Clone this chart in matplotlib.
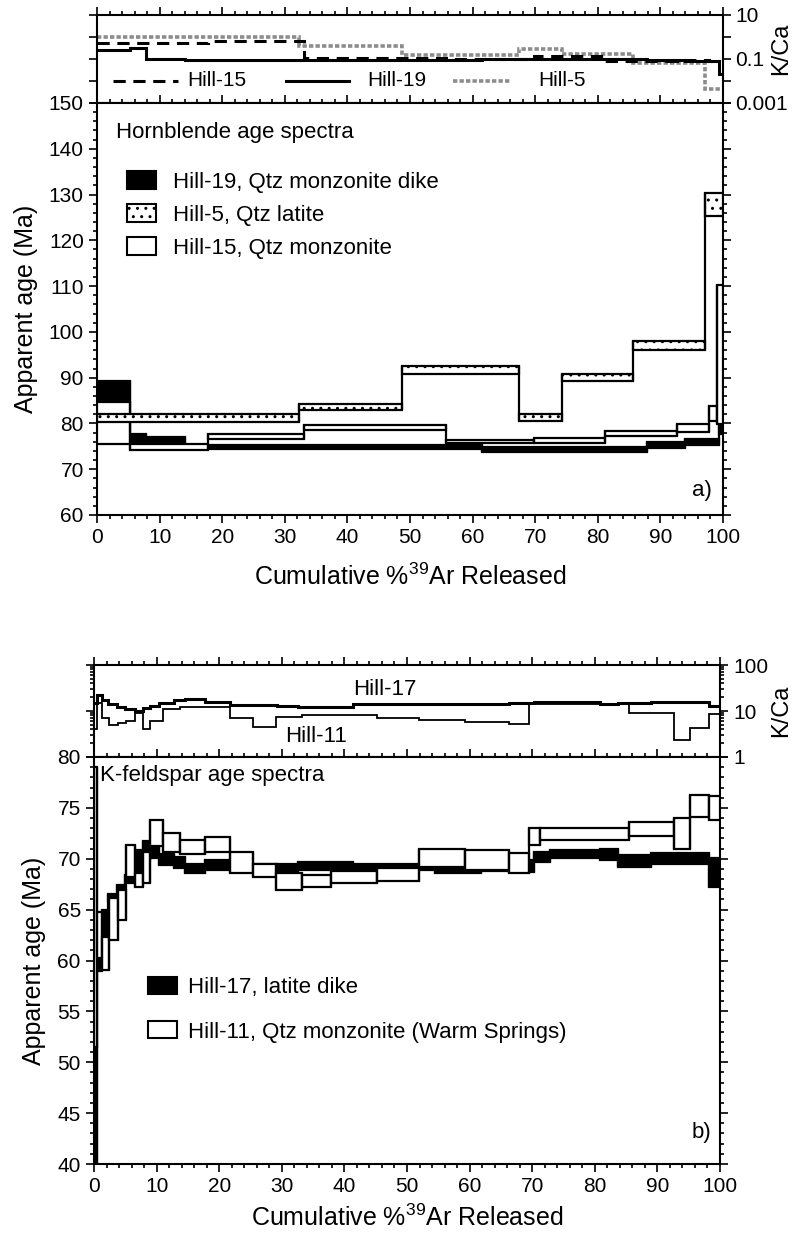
import numpy as np
import matplotlib
matplotlib.use("Agg")
import matplotlib.pyplot as plt
from matplotlib.patches import Rectangle, Patch
from matplotlib.ticker import MultipleLocator, FixedLocator, NullLocator, NullFormatter, LogLocator, FuncFormatter

plt.rcParams['font.family'] = ['Liberation Sans', 'DejaVu Sans']
plt.rcParams['mathtext.fontset'] = 'custom'
plt.rcParams['mathtext.rm'] = 'Liberation Sans'
plt.rcParams['mathtext.it'] = 'Liberation Sans:italic'
plt.rcParams['hatch.linewidth'] = 1.0

# ---- (a) hornblende: step edges (cumulative %39Ar), age lo / hi (Ma), K/Ca ----
h19_edges = [0, 5.2, 7.9, 14.0, 61.5, 87.9, 94.0, 99.3, 100]
h19_lo = [84.7, 75.9, 75.4, 74.4, 73.7, 74.7, 75.3, 77.6]
h19_hi = [89.2, 77.6, 77.0, 75.4, 74.8, 75.9, 76.5, 81.6]
h19_kca = [0.26, 0.32, 0.10, 0.088, 0.095, 0.09, 0.085, 0.02]

h15_edges = [0, 5.2, 17.8, 33.0, 55.7, 69.8, 81.1, 92.6, 97.8, 99.1, 100]
h15_lo = [75.6, 74.1, 76.7, 78.6, 75.8, 75.7, 77.2, 78.1, 80.5, 79.8]
h15_hi = [84.7, 75.6, 77.7, 79.6, 76.3, 76.9, 78.3, 79.8, 83.9, 110.3]
h15_kca = [0.52, 0.52, 0.63, 0.11, 0.10, 0.13, 0.085, 0.09, 0.085, 0.09]

h5_edges = [0, 32.2, 48.7, 67.4, 74.3, 85.6, 97.1, 100]
h5_lo = [80.3, 83.0, 90.8, 80.5, 89.2, 96.1, 125.4]
h5_hi = [82.1, 84.3, 92.6, 82.0, 90.7, 98.1, 130.3]
h5_kca = [1.05, 0.37, 0.16, 0.28, 0.17, 0.066, 0.0045]

# ---- (b) K-feldspar ----
h17_edges = [0, 0.5, 1.3, 2.3, 3.7, 4.9, 6.6, 7.9, 8.9, 10.4, 12.7, 14.5, 17.7, 21.7,
             29.2, 32.6, 41.4, 54.5, 61.8, 66.3, 69.5, 70.3, 72.9, 80.8, 83.7, 88.9, 98.2, 100]
h17_lo = [40.0, 59.0, 62.5, 65.8, 66.8, 67.6, 68.6, 69.9, 70.1, 69.4, 69.1, 68.6, 68.9,
          68.9, 68.6, 68.9, 68.9, 68.6, 68.8, 68.7, 68.7, 69.7, 70.1, 69.9, 69.2, 69.5, 67.2]
h17_hi = [51.5, 63.0, 65.0, 66.5, 67.4, 68.4, 70.9, 71.7, 71.3, 70.5, 70.2, 69.5, 69.9,
          69.5, 69.5, 69.7, 69.5, 69.4, 69.5, 69.9, 69.9, 70.7, 70.9, 71.0, 70.4, 70.6, 70.1]
h17_kca = [15, 22, 17, 14, 12, 11, 10, 11.5, 13, 15, 17.5, 18, 16, 13.5, 13, 12.5, 14,
           14, 14.5, 15, 15, 16, 16, 14, 15, 16, 13]

h11_edges = [0, 0.5, 1.3, 2.4, 3.8, 5.1, 6.6, 7.9, 9.0, 11.0, 13.8, 17.8, 21.7, 25.4,
             29.0, 33.3, 37.8, 45.2, 51.9, 59.3, 66.3, 69.5, 71.3, 85.4, 92.7, 95.2, 98.3, 100]
h11_lo = [51.5, 60.2, 59.1, 62.0, 64.0, 68.2, 67.2, 67.6, 71.3, 70.7, 70.5, 70.7, 68.6,
          68.2, 66.9, 67.2, 67.6, 67.8, 69.2, 68.9, 68.6, 71.4, 71.8, 72.2, 71.0, 74.1, 73.8]
h11_hi = [79.0, 64.8, 62.3, 66.1, 66.9, 71.4, 68.6, 70.7, 73.8, 72.5, 71.8, 72.1, 70.7,
          69.5, 68.6, 68.4, 68.8, 69.1, 71.0, 70.9, 70.6, 73.0, 73.0, 73.6, 74.0, 76.3, 76.2]
h11_kca = [4, 15, 7, 5, 5.5, 6, 9, 4, 6, 11, 12, 12, 7, 4.5, 7.5, 8, 8, 7, 6.5, 5.7,
           5.3, 14, 14, 9, 2.3, 4.2, 8.4]

W, H = 797, 1239


def spectrum(ax, edges, lo, hi, face, hatch=None, z=2):
    # one box per heating step, joined by vertical risers
    for i in range(len(lo)):
        ax.add_patch(Rectangle((edges[i], lo[i]), edges[i + 1] - edges[i], hi[i] - lo[i],
                               facecolor=face, edgecolor='black', hatch=hatch, lw=1.6, zorder=z))
        if i > 0:
            ax.vlines(edges[i], min(lo[i - 1], lo[i]), max(hi[i - 1], hi[i]),
                      color='black', lw=1.6, zorder=z)


def style(ax):
    for s in ax.spines.values():
        s.set_linewidth(1.5)
    ax.tick_params(which='both', direction='out', top=True, right=True, width=1.2, labelsize=15)
    ax.tick_params(which='major', length=6)
    ax.tick_params(which='minor', length=3)


def axes_px(left, right, top, bottom):
    return fig.add_axes([left / W, 1 - bottom / H, (right - left) / W, (bottom - top) / H])


fig = plt.figure(figsize=(W / 100, H / 100), dpi=100)

# ================= panel a =================
ka = axes_px(97, 723, 15, 103)
ma = axes_px(97, 723, 103, 515)

ka.stairs(h5_kca, h5_edges, baseline=None, color='0.55', lw=2.6, ls=(0, (1.2, 0.6)))
ka.stairs(h15_kca, h15_edges, baseline=None, color='black', lw=2.2, ls=(0, (4, 2.5)))
ka.stairs(h19_kca, h19_edges, baseline=None, color='black', lw=2.2)
ka.set_yscale('log')
ka.set_xlim(0, 100)
ka.set_ylim(0.001, 10)
ka.xaxis.set_major_locator(MultipleLocator(10))
ka.xaxis.set_minor_locator(MultipleLocator(2))
ka.yaxis.set_major_locator(FixedLocator([0.001, 0.01, 0.1, 1, 10]))
ka.yaxis.set_minor_locator(NullLocator())
ka.yaxis.set_major_formatter(FuncFormatter(lambda v, p: {0.001: '0.001', 0.1: '0.1', 10: '10'}.get(round(v, 4), '')))
style(ka)
ka.tick_params(labelbottom=False, labelleft=False, labelright=True, pad=3)
ka.yaxis.set_label_position('right')
ka.set_ylabel('K/Ca', fontsize=17)
ka.yaxis.set_label_coords(1.075, 0.62)

# legend for K/Ca traces, drawn by hand
for x0, x1, xt, col, lw, ls, lab in [(2.5, 12.9, 14.4, 'black', 2.2, (0, (4, 2.5)), 'Hill-15'),
                                     (30.2, 40.3, 43.2, 'black', 2.2, '-', 'Hill-19'),
                                     (56.8, 66.2, 70.5, '0.55', 2.6, (0, (1.2, 0.6)), 'Hill-5')]:
    ka.plot([x0, x1], [0.01, 0.01], color=col, lw=lw, ls=ls)
    ka.text(xt, 0.01, lab, fontsize=15, va='center', ha='left')

spectrum(ma, h19_edges, h19_lo, h19_hi, 'black', z=2)
spectrum(ma, h15_edges, h15_lo, h15_hi, 'white', z=3)
spectrum(ma, h5_edges, h5_lo, h5_hi, 'white', hatch='..', z=4)
ma.set_xlim(0, 100)
ma.set_ylim(60, 150)
ma.xaxis.set_major_locator(MultipleLocator(10))
ma.xaxis.set_minor_locator(MultipleLocator(2))
ma.yaxis.set_major_locator(MultipleLocator(10))
ma.yaxis.set_minor_locator(MultipleLocator(2))
style(ma)
ma.set_ylabel('Apparent age (Ma)', fontsize=18, labelpad=8)
ma.set_xlabel('Cumulative %$^{39}$Ar Released', fontsize=18, labelpad=12)
ma.text(3.0, 143.5, 'Hornblende age spectra', fontsize=16, va='center')
ma.text(98.2, 65.3, 'a)', fontsize=16, va='center', ha='right')
ma.legend(handles=[Patch(facecolor='black', edgecolor='black', lw=1.5),
                   Patch(facecolor='white', edgecolor='black', hatch='..', lw=1.5),
                   Patch(facecolor='white', edgecolor='black', lw=1.5)],
          labels=['Hill-19, Qtz monzonite dike', 'Hill-5, Qtz latite', 'Hill-15, Qtz monzonite'],
          loc='upper left', bbox_to_anchor=(0.048, 0.835), frameon=False, fontsize=16,
          handlelength=1.3, handleheight=0.9, handletextpad=0.75, labelspacing=0.5,
          borderpad=0, borderaxespad=0)

# ================= panel b =================
kb = axes_px(94, 720, 665, 757)
mb = axes_px(94, 720, 757, 1164)

kb.stairs(h11_kca, h11_edges, baseline=None, color='black', lw=1.3)
kb.stairs(h17_kca, h17_edges, baseline=None, color='black', lw=2.2)
kb.set_yscale('log')
kb.set_xlim(0, 100)
kb.set_ylim(1, 100)
kb.xaxis.set_major_locator(MultipleLocator(10))
kb.xaxis.set_minor_locator(MultipleLocator(2))
kb.yaxis.set_major_locator(FixedLocator([1, 10, 100]))
kb.yaxis.set_minor_locator(LogLocator(base=10, subs=np.arange(2, 10)))
kb.yaxis.set_minor_formatter(NullFormatter())
kb.yaxis.set_major_formatter(FuncFormatter(lambda v, p: '%d' % v))
style(kb)
kb.tick_params(labelbottom=False, labelleft=False, labelright=True)
kb.yaxis.set_label_position('right')
kb.set_ylabel('K/Ca', fontsize=17)
kb.yaxis.set_label_coords(1.08, 0.5)
kb.text(46.5, 29, 'Hill-17', fontsize=16, ha='center', va='center')
kb.text(35.5, 2.8, 'Hill-11', fontsize=16, ha='center', va='center')

spectrum(mb, h17_edges, h17_lo, h17_hi, 'black', z=2)
spectrum(mb, h11_edges, h11_lo, h11_hi, 'white', z=3)
mb.set_xlim(0, 100)
mb.set_ylim(40, 80)
mb.xaxis.set_major_locator(MultipleLocator(10))
mb.xaxis.set_minor_locator(MultipleLocator(2))
mb.yaxis.set_major_locator(MultipleLocator(5))
mb.yaxis.set_minor_locator(MultipleLocator(1))
style(mb)
mb.set_ylabel('Apparent age (Ma)', fontsize=18, labelpad=8)
mb.set_xlabel('Cumulative %$^{39}$Ar Released', fontsize=18, labelpad=6)
mb.text(1.0, 78.2, 'K-feldspar age spectra', fontsize=16, va='center')
mb.text(98.6, 43.1, 'b)', fontsize=16, va='center', ha='right')
mb.legend(handles=[Patch(facecolor='black', edgecolor='black', lw=1.5),
                   Patch(facecolor='white', edgecolor='black', lw=1.5)],
          labels=['Hill-17, latite dike', 'Hill-11, Qtz monzonite (Warm Springs)'],
          loc='upper left', bbox_to_anchor=(0.086, 0.46), frameon=False, fontsize=16,
          handlelength=1.3, handleheight=0.8, handletextpad=0.5, labelspacing=1.05,
          borderpad=0, borderaxespad=0)

fig.savefig('out.png', dpi=100)
